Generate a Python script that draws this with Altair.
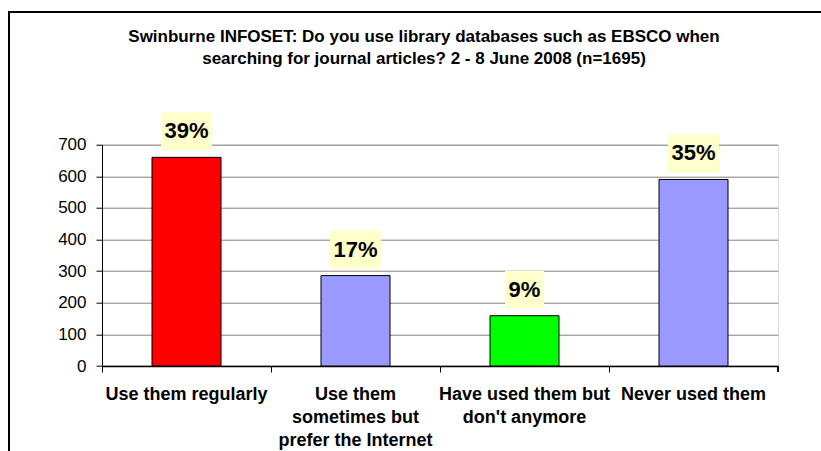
import altair as alt
import pandas as pd

categories = [
    "Use them regularly",
    "Use them|sometimes but|prefer the Internet",
    "Have used them but|don't anymore",
    "Never used them",
]
counts = [660, 286, 159, 590]
pct_labels = ["39%", "17%", "9%", "35%"]
bar_colors = ["#FF0000", "#9999FF", "#00FF00", "#9999FF"]
y_ticks = [0, 100, 200, 300, 400, 500, 600, 700]
title_lines = [
    "Swinburne INFOSET: Do you use library databases such as EBSCO when",
    "searching for journal articles? 2 - 8 June 2008 (n=1695)",
]

df = pd.DataFrame({"cat": categories, "count": counts, "pct": pct_labels, "color": bar_colors})
df["wide"] = df["pct"].str.len() > 2

FONT = "Liberation Sans"

x_enc = alt.X(
    "cat:N",
    sort=categories,
    scale=alt.Scale(paddingInner=0, paddingOuter=0),
    axis=alt.Axis(
        title=None,
        labelAngle=0,
        labelExpr="split(datum.label, '|')",
        labelFont=FONT,
        labelFontSize=18,
        labelFontWeight="bold",
        labelColor="black",
        labelLineHeight=23,
        labelPadding=13,
        labelBaseline="top",
        labelLimit=200,
        bandPosition=0,
        ticks=True,
        tickSize=6,
        tickColor="black",
        domainColor="black",
        domainWidth=1.5,
        grid=False,
    ),
)
y_enc = alt.Y(
    "count:Q",
    scale=alt.Scale(domain=[0, 700], nice=False, zero=True),
    axis=alt.Axis(
        title=None,
        values=y_ticks,
        labelFont=FONT,
        labelFontSize=17,
        labelColor="black",
        labelPadding=10,
        labelOverlap=False,
        tickSize=6,
        tickColor="black",
        domainColor="black",
        grid=True,
        gridColor="#808080",
        gridWidth=1,
    ),
)

bars = alt.Chart(df).mark_bar(width=69, stroke="black", strokeWidth=1).encode(
    x=x_enc,
    y=y_enc,
    color=alt.Color("color:N", scale=None),
)

box_wide = alt.Chart(df).transform_filter("datum.wide").mark_rect(
    width=51, fill="#FFFFCC", yOffset=-7, y2Offset=-45
).encode(x=x_enc, y=y_enc, y2="count:Q")

box_narrow = alt.Chart(df).transform_filter("!datum.wide").mark_rect(
    width=39, fill="#FFFFCC", yOffset=-7, y2Offset=-45
).encode(x=x_enc, y=y_enc, y2="count:Q")

texts = alt.Chart(df).mark_text(
    font=FONT, fontSize=22, fontWeight="bold", color="black", baseline="middle", dy=-26
).encode(x=x_enc, y=y_enc, text="pct:N")

end_tick = alt.Chart(df).mark_rule(color="black", strokeWidth=1).encode(
    x=alt.value(676), y=alt.value(221.3), y2=alt.value(227.3)
)

frame = alt.Chart(df).mark_rect(fill=None, stroke="black", strokeWidth=2).encode(
    x=alt.value(-93), x2=alt.value(800), y=alt.value(-132.7), y2=alt.value(400)
)

chart = alt.layer(frame, bars, box_wide, box_narrow, texts, end_tick).properties(
    width=676,
    height=221.3,
    autosize=alt.AutoSizeParams(type="none"),
    padding={"left": 102, "top": 144.7, "right": 43, "bottom": 85},
    title=alt.TitleParams(
        text=title_lines,
        font=FONT,
        fontSize=17,
        fontWeight="bold",
        color="black",
        anchor="middle",
        dx=-16,
        lineHeight=22,
        offset=-57,
    ),
).configure_view(stroke=None).configure(background="white")

chart.save("out.html", embed_options={"renderer": "svg", "actions": False})
